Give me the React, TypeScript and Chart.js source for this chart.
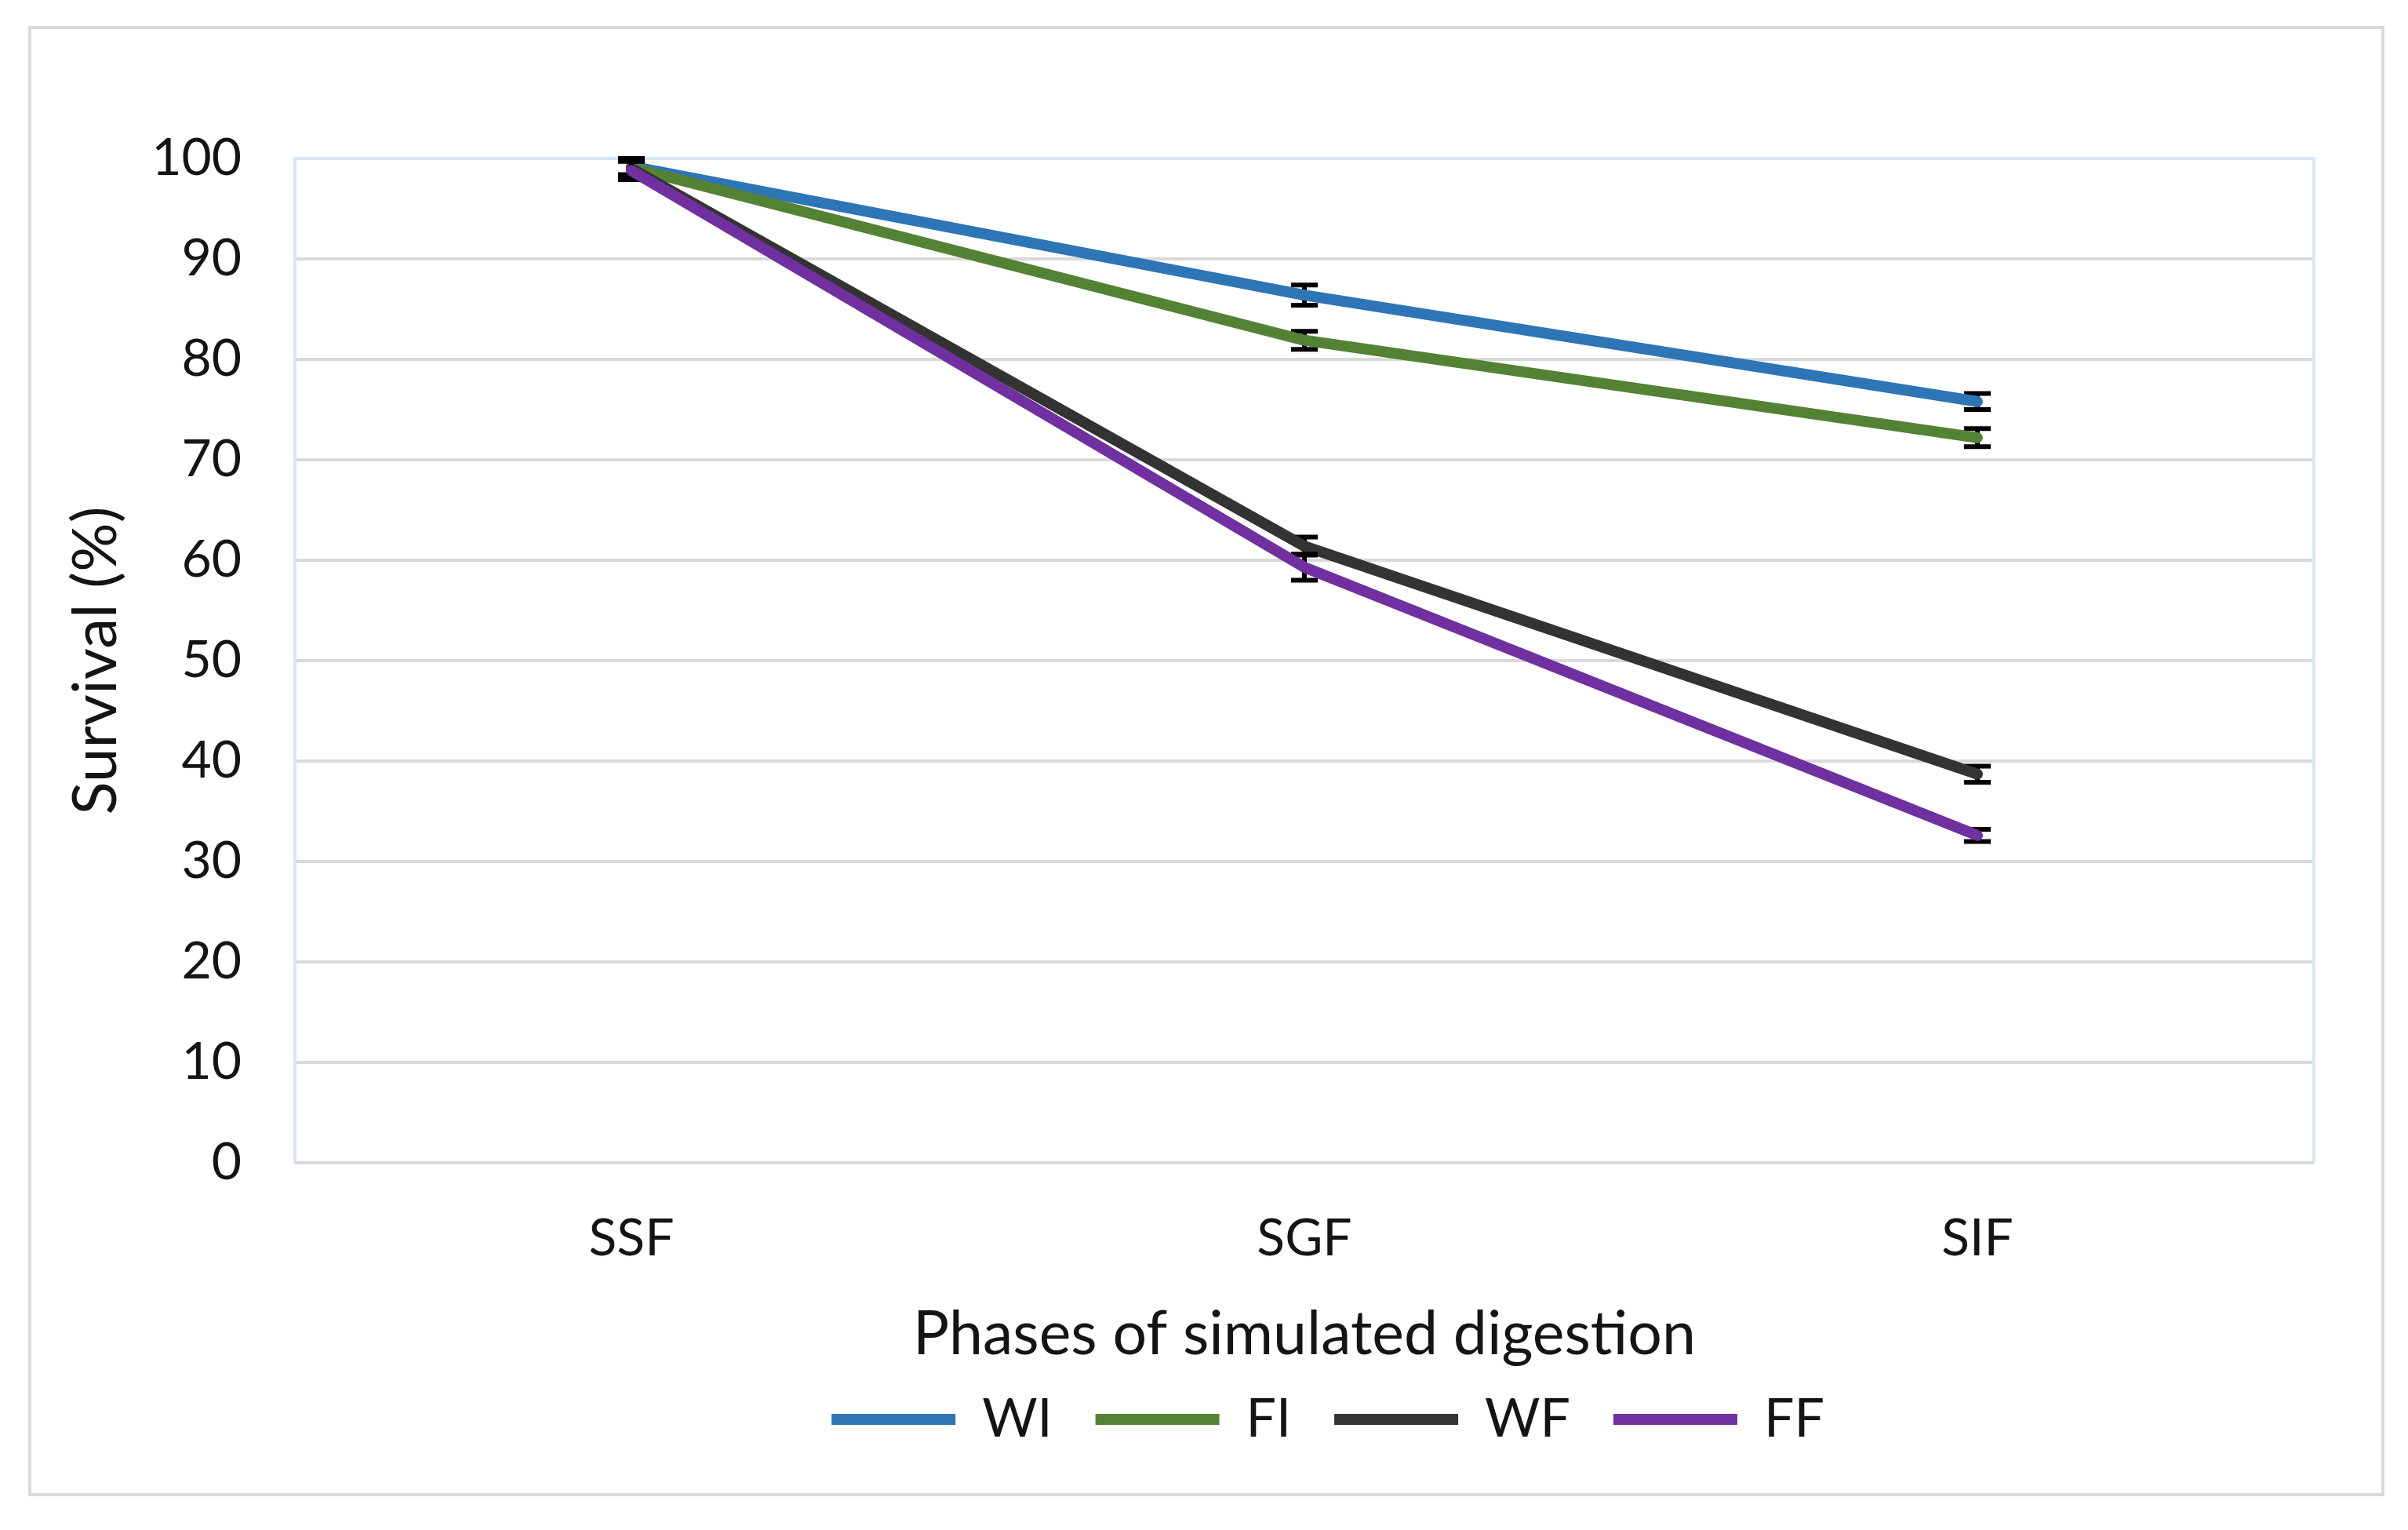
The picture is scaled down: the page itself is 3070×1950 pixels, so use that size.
import React, { useEffect, useRef } from "react";
import { Chart, registerables } from "chart.js";

Chart.register(...registerables);

const categories = ["SSF", "SGF", "SIF"];
const seriesNames = ["WI", "FI", "WF", "FF"];
const wiValues = [99.2, 86.4, 75.8];
const fiValues = [99.1, 81.9, 72.2];
const wfValues = [99.0, 61.4, 38.7];
const ffValues = [98.8, 59.3, 32.6];
const wiErrors = [0.8, 1.0, 0.8];
const fiErrors = [0.8, 0.9, 0.9];
const wfErrors = [0.8, 0.9, 0.8];
const ffErrors = [0.9, 1.3, 0.6];
const seriesColors = ["#2E75B6", "#548235", "#333333", "#7030A0"];
const yTicks = [0, 10, 20, 30, 40, 50, 60, 70, 80, 90, 100];
const xTitle = "Phases of simulated digestion";
const yTitle = "Survival (%)";

const FONT = "Lato, 'Open Sans', sans-serif";
const TEXT = "#141414";

const allValues = [wiValues, fiValues, wfValues, ffValues];
const allErrors = [wiErrors, fiErrors, wfErrors, ffErrors];

const errorBarPlugin = {
  id: "errorBars",
  beforeDatasetDraw(chart: any, args: any) {
    const idx = args.index;
    const errs = allErrors[idx];
    const vals = allValues[idx];
    if (!errs) return;
    const yScale = chart.scales.y;
    const meta = args.meta;
    const ctx = chart.ctx;
    ctx.save();
    ctx.strokeStyle = "#000000";
    ctx.lineWidth = 6;
    ctx.lineCap = "butt";
    const half = 17;
    meta.data.forEach((pt: any, i: number) => {
      const x = pt.x;
      const yTop = yScale.getPixelForValue(vals[i] + errs[i]);
      const yBot = yScale.getPixelForValue(vals[i] - errs[i]);
      ctx.beginPath();
      ctx.moveTo(x, yTop);
      ctx.lineTo(x, yBot);
      ctx.moveTo(x - half, yTop);
      ctx.lineTo(x + half, yTop);
      ctx.moveTo(x - half, yBot);
      ctx.lineTo(x + half, yBot);
      ctx.stroke();
    });
    ctx.restore();
  },
};

const plotBorderPlugin = {
  id: "plotBorder",
  beforeDatasetsDraw(chart: any) {
    const { ctx, chartArea } = chart;
    const { left, right, top, bottom } = chartArea;
    ctx.save();
    ctx.strokeStyle = "#d7e6f5";
    ctx.lineWidth = 4;
    ctx.beginPath();
    ctx.moveTo(left, bottom);
    ctx.lineTo(left, top);
    ctx.lineTo(right, top);
    ctx.lineTo(right, bottom);
    ctx.stroke();
    ctx.strokeStyle = "#d9d9d9";
    ctx.lineWidth = 4;
    ctx.beginPath();
    ctx.moveTo(left, bottom);
    ctx.lineTo(right, bottom);
    ctx.stroke();
    ctx.restore();
  },
};

const legendShiftPlugin = {
  id: "legendShift",
  afterLayout(chart: any) {
    const lg = chart.legend;
    if (lg) {
      lg.left += 30;
      lg.right += 30;
    }
  },
};

export default function App() {
  const ref = useRef<HTMLCanvasElement>(null);

  useEffect(() => {
    if (!ref.current) return;
    const datasets = seriesNames.map((name, i) => ({
      label: name,
      data: allValues[i],
      borderColor: seriesColors[i],
      backgroundColor: seriesColors[i],
      borderWidth: 14,
      borderCapStyle: "round" as const,
      borderJoinStyle: "round" as const,
      pointRadius: 0,
      pointHoverRadius: 0,
      pointStyle: "line" as const,
      tension: 0,
      fill: false,
      order: seriesNames.length - i,
    }));

    const chart = new Chart(ref.current, {
      type: "line",
      data: { labels: categories, datasets },
      plugins: [plotBorderPlugin, errorBarPlugin, legendShiftPlugin],
      options: {
        responsive: false,
        maintainAspectRatio: false,
        devicePixelRatio: 1,
        animation: false,
        layout: { padding: { top: 202, right: 120, left: 0, bottom: 97 } },
        plugins: {
          tooltip: { enabled: false },
          title: { display: false },
          legend: {
            display: true,
            position: "bottom",
            fullSize: false,
            align: "center",
            labels: {
              usePointStyle: true,
              pointStyle: "line",
              pointStyleWidth: 158,
              padding: 55,
              color: TEXT,
              font: { family: FONT, size: 68 },
              sort: (a: any, b: any) => a.datasetIndex - b.datasetIndex,
            },
          },
        },
        scales: {
          x: {
            type: "category",
            offset: true,
            grid: { display: false, drawTicks: false },
            border: { display: false },
            ticks: {
              color: TEXT,
              padding: 57,
              font: { family: FONT, size: 66, lineHeight: 1.2 },
              maxRotation: 0,
            },
            title: {
              display: true,
              text: xTitle,
              color: TEXT,
              font: { family: FONT, size: 77, lineHeight: 0.5 },
              padding: { top: 0, bottom: 0 },
            },
            afterFit: (s: any) => {
              s.height = 238;
            },
          },
          y: {
            min: 0,
            max: 100,
            afterBuildTicks: (s: any) => {
              s.ticks = yTicks.map((v) => ({ value: v }));
            },
            grid: { color: "#d9d9d9", lineWidth: 4, drawTicks: false },
            border: { display: false },
            ticks: {
              color: TEXT,
              padding: 68,
              font: { family: FONT, size: 66 },
            },
            title: {
              display: true,
              text: yTitle,
              color: TEXT,
              font: { family: FONT, size: 78, lineHeight: 1.2 },
              padding: { top: 76, bottom: 0 },
            },
            afterFit: (s: any) => {
              s.width = 376;
            },
          },
        },
      },
    });
    return () => chart.destroy();
  }, []);

  return (
    <div
      style={{
        position: "fixed",
        left: 0,
        top: 0,
        width: 3070,
        height: 1950,
        background: "#ffffff",
      }}
    >
      <div
        style={{
          position: "absolute",
          left: 36,
          top: 33,
          width: 3004,
          height: 1874,
          border: "4px solid #d9d9d9",
          boxSizing: "border-box",
        }}
      />
      <canvas
        ref={ref}
        width={3070}
        height={1950}
        style={{ position: "absolute", left: 0, top: 0, width: 3070, height: 1950 }}
      />
    </div>
  );
}
